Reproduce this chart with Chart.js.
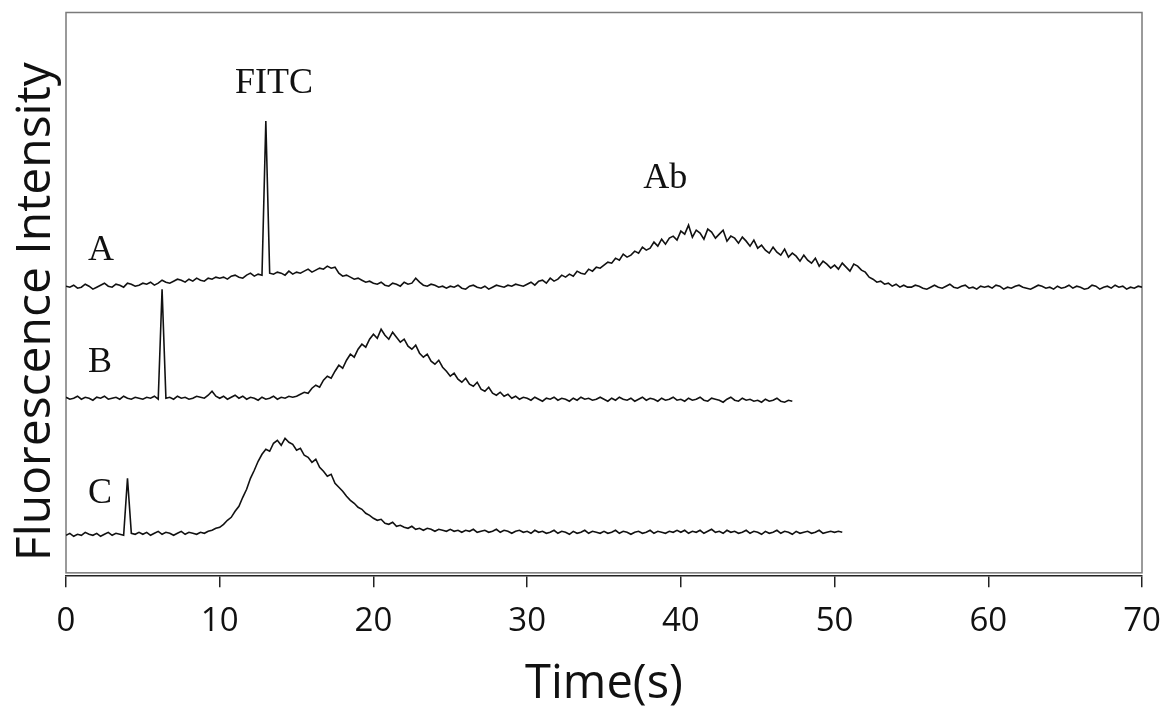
<!DOCTYPE html>
<html>
<head>
<meta charset="utf-8">
<title>Fluorescence Intensity</title>
<script src="https://cdn.jsdelivr.net/npm/chart.js@4.4.1/dist/chart.umd.min.js"></script>
<style>
  html, body { margin: 0; padding: 0; background: #ffffff; }
</style>
</head>
<body>
<canvas id="chart" width="1165" height="708"></canvas>
<script>
// Traces are sampled every 0.25 s, starting at 0 s
const sampleStep = 0.25;

// Trace A (0 - 70 s), offset baseline ~289
const traceA = [
  289,288,290,287,288,291,289,286,288,290,292,289,288,291,290,288,292,291,289,290,
  292,291,293,290,292,295,293,292,294,296,295,293,296,294,297,295,294,297,296,298,
  297,298,296,299,300,298,297,300,302,299,301,300,454,302,301,303,302,300,304,301,
  303,302,304,306,303,305,307,306,309,307,308,302,299,300,298,296,297,295,293,294,
  292,291,293,290,289,292,291,289,293,291,292,297,293,290,289,291,290,288,289,287,
  289,288,290,287,286,289,290,288,287,289,286,288,290,289,288,290,289,291,290,289,
  291,293,290,294,295,292,297,294,296,300,298,301,299,304,302,301,306,304,308,307,
  310,313,312,317,315,321,318,320,324,322,328,325,327,333,329,336,331,337,339,335,
  344,341,350,338,345,342,336,346,343,337,341,345,334,339,337,332,338,334,329,335,
  327,330,325,322,328,323,320,326,318,322,319,314,320,315,312,317,309,314,311,307,
  310,306,312,308,304,311,309,305,303,298,296,293,294,291,292,289,291,288,290,288,
  288,290,289,287,286,288,290,288,287,289,291,288,287,289,290,287,288,286,289,288,
  289,287,290,289,286,288,287,289,290,288,287,286,288,290,289,287,288,286,289,287,
  288,290,287,289,288,286,287,290,289,286,288,289,287,290,288,289,286,288,287,289,
  288
];

// Trace B (0 - 47.25 s), offset baseline ~177
const traceB = [
  178,176,177,179,176,178,177,175,178,177,179,176,177,178,176,179,177,176,178,177,
  176,178,177,179,176,286,177,178,176,179,177,178,176,177,179,178,177,180,184,179,
  177,179,176,178,180,177,179,176,178,177,175,178,176,177,179,176,178,177,179,178,
  179,181,183,182,187,190,188,195,199,197,204,210,207,215,221,218,226,231,228,236,
  241,237,246,240,236,243,238,233,236,229,226,230,222,218,221,214,211,215,208,204,
  199,202,196,193,197,191,189,193,186,184,188,182,180,183,179,181,177,179,176,178,
  177,175,178,176,174,177,176,178,175,177,176,174,177,175,178,176,177,175,176,178,
  176,174,177,175,178,176,175,177,174,176,178,175,177,176,174,177,175,176,178,175,
  176,174,177,175,176,178,175,174,177,176,175,173,176,178,175,174,177,175,176,174,
  175,173,176,174,175,177,174,173,175,174
];

// Trace C (0 - 50.5 s), offset baseline ~42
const traceC = [
  40,42,39,41,40,43,41,40,42,39,41,43,40,42,41,40,97,42,41,43,
  41,43,40,42,44,41,43,42,40,42,44,41,43,42,41,43,42,44,45,47,
  48,51,55,58,64,69,78,86,97,105,114,121,126,124,132,135,130,137,133,131,
  125,127,120,118,113,116,108,104,99,101,92,88,84,79,75,72,68,66,62,60,
  57,55,56,52,51,53,49,50,48,47,49,46,47,45,47,46,44,46,45,44,
  46,44,45,43,45,44,46,43,44,45,43,44,46,43,45,44,42,44,45,43,
  44,42,45,43,44,42,43,45,42,44,43,41,44,42,43,45,42,44,43,42,
  44,42,43,45,42,44,43,41,43,44,42,43,45,42,44,43,42,44,43,45,
  43,45,42,44,43,45,42,44,46,43,44,42,45,43,44,42,43,45,42,44,
  43,41,44,42,43,45,42,44,43,41,44,42,43,44,42,43,45,42,43,44,
  43,44,43
];

const xTicks = [0, 10, 20, 30, 40, 50, 60, 70];

// Text labels placed in data coordinates (time, intensity)
const peakLabels = [
  { text: 'FITC', t: 11.0, v: 482 },
  { text: 'Ab', t: 37.55, v: 387 },
  { text: 'A', t: 1.43, v: 315 },
  { text: 'B', t: 1.43, v: 203 },
  { text: 'C', t: 1.43, v: 72 }
];

function toPoints(values) {
  return values.map((v, i) => ({ x: i * sampleStep, y: v }));
}

function traceDataset(label, values) {
  return {
    label: label,
    data: toPoints(values),
    borderColor: '#111111',
    borderWidth: 1.6,
    pointRadius: 0,
    tension: 0,
    fill: false
  };
}

// Cadre gris, titres des axes et étiquettes
const decorations = {
  id: 'decorations',
  beforeDatasetsDraw(chart) {
    const { ctx, chartArea } = chart;
    ctx.save();
    ctx.strokeStyle = '#7a7a7a';
    ctx.lineWidth = 1.5;
    ctx.strokeRect(chartArea.left, chartArea.top + 0.5,
      chartArea.right - chartArea.left, chartArea.bottom - chartArea.top - 3);
    ctx.restore();
  },
  afterDraw(chart) {
    const { ctx, chartArea, scales } = chart;
    ctx.save();
    ctx.fillStyle = '#111111';

    ctx.font = '47px "Open Sans"';
    ctx.textAlign = 'center';
    ctx.textBaseline = 'alphabetic';
    ctx.fillText('Time(s)', (chartArea.left + chartArea.right) / 2, chartArea.bottom + 123);

    ctx.save();
    ctx.translate(chartArea.left - 16, (chartArea.top + chartArea.bottom) / 2 + 18);
    ctx.rotate(-Math.PI / 2);
    ctx.font = '48px "Open Sans"';
    ctx.fillText('Fluorescence Intensity', 0, 0);
    ctx.restore();

    ctx.font = '36px "Liberation Serif"';
    ctx.textAlign = 'left';
    peakLabels.forEach(l => {
      ctx.fillText(l.text, scales.x.getPixelForValue(l.t), scales.y.getPixelForValue(l.v));
    });
    ctx.restore();
  }
};

new Chart(document.getElementById('chart'), {
  type: 'line',
  data: {
    datasets: [
      traceDataset('A', traceA),
      traceDataset('B', traceB),
      traceDataset('C', traceC)
    ]
  },
  options: {
    responsive: false,
    devicePixelRatio: 1,
    animation: false,
    layout: { padding: { left: 66, right: 23, top: 12, bottom: 53 } },
    plugins: {
      legend: { display: false },
      tooltip: { enabled: false }
    },
    scales: {
      x: {
        type: 'linear',
        min: 0,
        max: 70,
        afterBuildTicks: scale => {
          scale.ticks = xTicks.map(v => ({ value: v }));
        },
        grid: {
          drawOnChartArea: false,
          drawTicks: true,
          tickLength: 12,
          color: '#222222',
          lineWidth: 1.5
        },
        border: { display: true, color: '#222222', width: 1.5 },
        ticks: {
          color: '#111111',
          font: { family: 'Open Sans', size: 33, lineHeight: 2.05 },
          padding: 0,
          maxRotation: 0,
          autoSkip: false
        }
      },
      y: {
        display: false,
        min: 0,
        max: 563
      }
    }
  },
  plugins: [decorations]
});
</script>
</body>
</html>
